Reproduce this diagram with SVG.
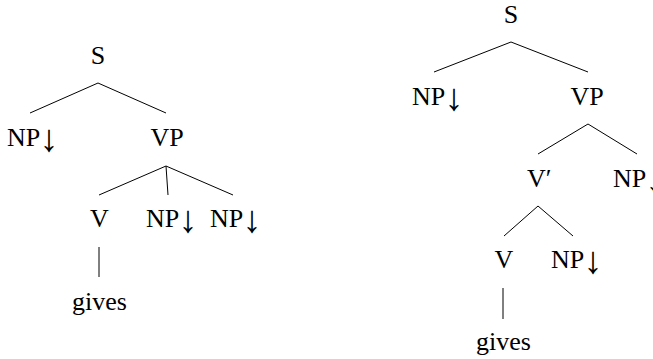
<svg xmlns="http://www.w3.org/2000/svg" width="653" height="359" viewBox="0 0 653 359">
<style>
text{font-family:"Liberation Serif","DejaVu Serif",serif;font-size:26px;fill:#000;text-anchor:middle}
text.s{text-anchor:start}
.a{font-size:38px}
.e line{stroke:#000;stroke-width:1;fill:none}
</style>
<rect width="653" height="359" fill="#fff"/>
<g class="e" id="connectors">
<line x1="98" y1="83" x2="30" y2="113"/>
<line x1="98" y1="83" x2="166" y2="113"/>
<line x1="166" y1="166" x2="99" y2="195"/>
<line x1="166" y1="166" x2="168" y2="195"/>
<line x1="166" y1="166" x2="233" y2="195"/>
<line x1="99" y1="247" x2="99" y2="277"/>
<line x1="511" y1="42" x2="434" y2="72"/>
<line x1="511" y1="42" x2="588" y2="72"/>
<line x1="588" y1="124" x2="538" y2="154"/>
<line x1="588" y1="124" x2="637" y2="154"/>
<line x1="538" y1="206" x2="504" y2="236"/>
<line x1="538" y1="206" x2="573" y2="236"/>
<line x1="503" y1="288" x2="503" y2="319"/>
</g>
<g id="l-S"><text x="98" y="64">S</text></g>
<g id="l-NP1"><text class="s" x="7" y="146">NP<tspan class="a" dx="-1" dy="5">↓</tspan></text></g>
<g id="l-VP"><text x="167" y="146">VP</text></g>
<g id="l-V"><text x="99.5" y="227">V</text></g>
<g id="l-NP2"><text class="s" x="146" y="227">NP<tspan class="a" dx="-1" dy="5">↓</tspan></text></g>
<g id="l-NP3"><text class="s" x="210" y="227">NP<tspan class="a" dx="-1" dy="5">↓</tspan></text></g>
<g id="l-gives"><text x="99.5" y="310">gives</text></g>
<g id="r-S"><text x="511" y="23">S</text></g>
<g id="r-NP1"><text class="s" x="412" y="105">NP<tspan class="a" dx="-1" dy="5">↓</tspan></text></g>
<g id="r-VP"><text x="587" y="105">VP</text></g>
<g id="r-Vbar"><text class="s" x="527" y="187">V′</text></g>
<g id="r-NP2"><text class="s" x="613" y="187">NP<tspan class="a" dx="-1" dy="5">↓</tspan></text></g>
<g id="r-V"><text x="504" y="268">V</text></g>
<g id="r-NP3"><text class="s" x="551" y="268">NP<tspan class="a" dx="-1" dy="5">↓</tspan></text></g>
<g id="r-gives"><text x="503.5" y="350">gives</text></g>
</svg>
